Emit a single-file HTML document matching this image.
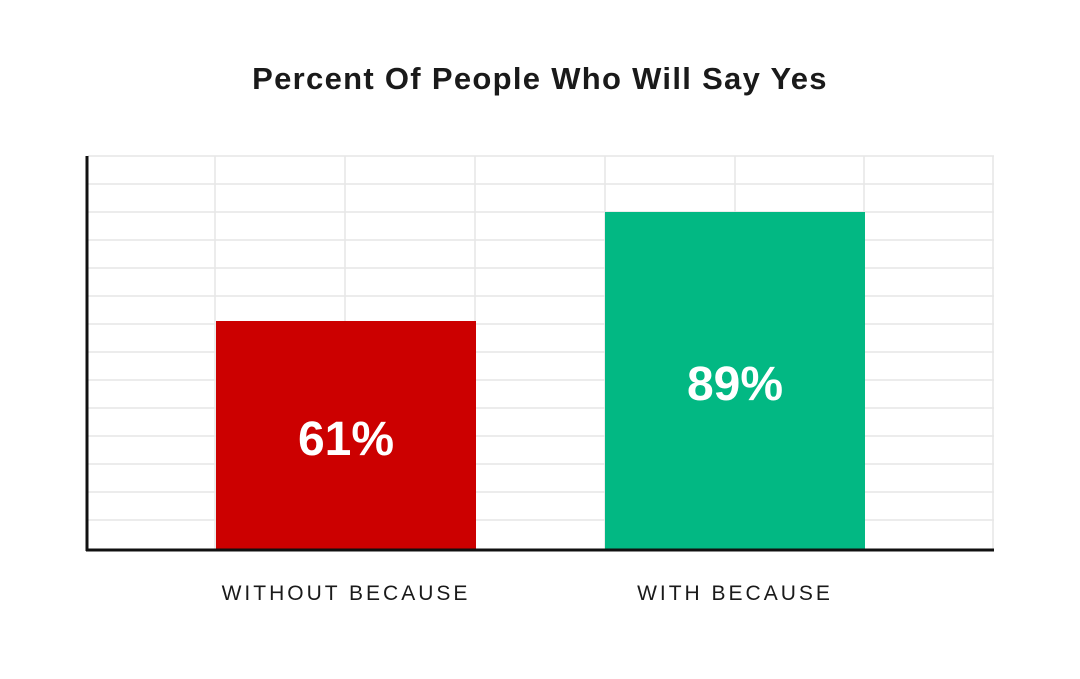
<!DOCTYPE html>
<html><head><style>
body{margin:0;background:#fff;}
svg text{font-family:"Liberation Sans",sans-serif;}
</style></head><body>
<svg width="1080" height="674" xmlns="http://www.w3.org/2000/svg">
<rect width="1080" height="674" fill="#fff"/>
<text x="540" y="89" text-anchor="middle" font-size="31" font-weight="bold" fill="#1a1a1a" letter-spacing="1.3">Percent Of People Who Will Say Yes</text>
<g stroke="#e6e6e6" stroke-width="1.5">
<line x1="88" y1="156" x2="994" y2="156"/>
<line x1="88" y1="184" x2="994" y2="184"/>
<line x1="88" y1="212" x2="994" y2="212"/>
<line x1="88" y1="240" x2="994" y2="240"/>
<line x1="88" y1="268" x2="994" y2="268"/>
<line x1="88" y1="296" x2="994" y2="296"/>
<line x1="88" y1="324" x2="994" y2="324"/>
<line x1="88" y1="352" x2="994" y2="352"/>
<line x1="88" y1="380" x2="994" y2="380"/>
<line x1="88" y1="408" x2="994" y2="408"/>
<line x1="88" y1="436" x2="994" y2="436"/>
<line x1="88" y1="464" x2="994" y2="464"/>
<line x1="88" y1="492" x2="994" y2="492"/>
<line x1="88" y1="520" x2="994" y2="520"/>
<line x1="215" y1="156" x2="215" y2="550"/>
<line x1="345" y1="156" x2="345" y2="550"/>
<line x1="475" y1="156" x2="475" y2="550"/>
<line x1="605" y1="156" x2="605" y2="550"/>
<line x1="735" y1="156" x2="735" y2="550"/>
<line x1="864" y1="156" x2="864" y2="550"/>
<line x1="993" y1="156" x2="993" y2="550"/>
</g>
<rect x="216" y="321" width="260" height="229" fill="#cc0000"/>
<rect x="605" y="212" width="260" height="338" fill="#02b883"/>
<line x1="87" y1="156" x2="87" y2="551" stroke="#111" stroke-width="3"/>
<line x1="86" y1="550" x2="994" y2="550" stroke="#111" stroke-width="3"/>
<text x="346" y="455" text-anchor="middle" font-size="48" font-weight="bold" fill="#fff">61%</text>
<text x="735" y="400" text-anchor="middle" font-size="48" font-weight="bold" fill="#fff">89%</text>
<text x="346" y="600" text-anchor="middle" font-size="21" fill="#1a1a1a" letter-spacing="3">WITHOUT BECAUSE</text>
<text x="735" y="600" text-anchor="middle" font-size="21" fill="#1a1a1a" letter-spacing="3">WITH BECAUSE</text>
</svg>
</body></html>
